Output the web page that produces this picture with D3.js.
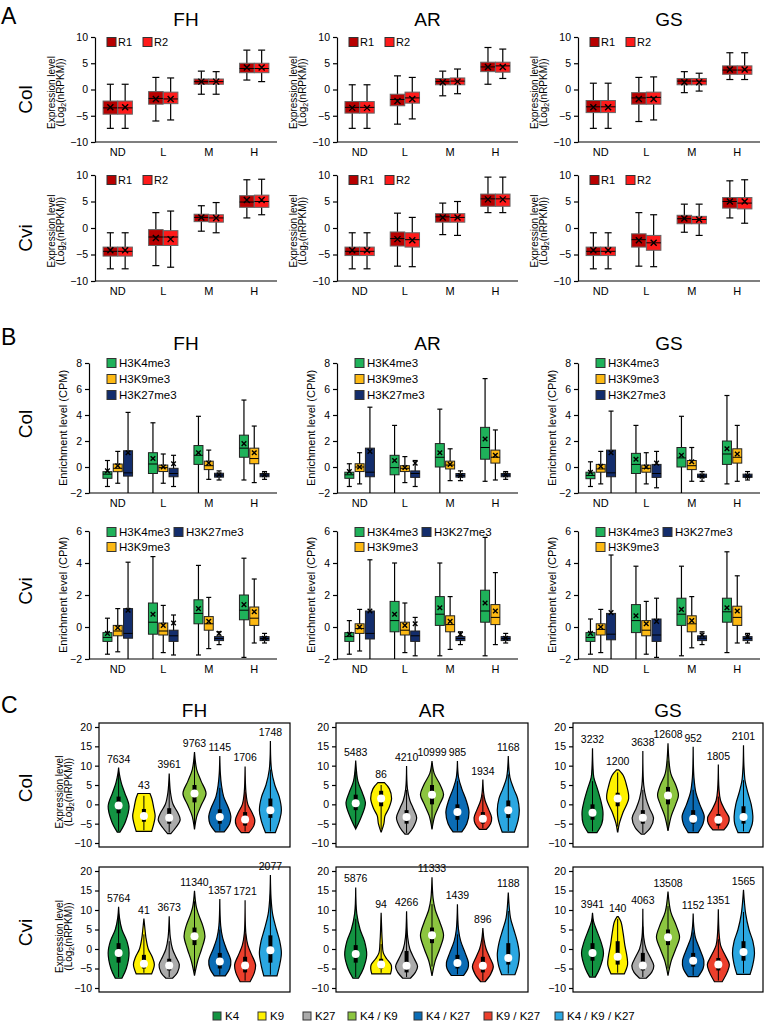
<!DOCTYPE html>
<html>
<head>
<meta charset="utf-8">
<script src="https://cdn.jsdelivr.net/npm/d3@7"></script>
<style>
  body { margin: 0; background: #fff; }
  svg { display: block; }
</style>
</head>
<body>
<svg id="fig" width="766" height="1024"></svg>
<script>
// ---- labels ----
const cats = ['ND', 'L', 'M', 'H'];
const colNames = ['FH', 'AR', 'GS'];
const rowNames = ['Col', 'Cvi'];
const repNames = ['R1', 'R2'];
const markNames = ['H3K4me3', 'H3K9me3', 'H3K27me3'];
const groupNames = ['K4', 'K9', 'K27', 'K4 / K9', 'K4 / K27', 'K9 / K27', 'K4 / K9 / K27'];

const aTicks = [-10, -5, 0, 5, 10];
const bTicksCol = [-2, 0, 2, 4, 6, 8];
const bTicksCvi = [-2, 0, 2, 4, 6];
const cTicks = [-10, -5, 0, 5, 10, 15, 20];

// ---- A: expression boxes, [low, q1, median, q3, high, mean] for R1 and R2 ----
const aColFH = [
  [[-7.4, -4.7, -3.5, -2.2, 1.0, -3.4], [-7.4, -4.7, -3.5, -2.2, 1.0, -3.4]],
  [[-6.0, -2.8, -1.7, -0.4, 2.3, -1.8], [-5.8, -2.7, -1.8, -0.5, 2.2, -1.8]],
  [[-0.9, 1.0, 1.5, 2.0, 3.5, 1.5], [-0.9, 1.0, 1.5, 2.0, 3.4, 1.5]],
  [[1.8, 3.2, 4.0, 5.0, 7.5, 4.2], [1.5, 3.2, 4.0, 5.0, 7.5, 4.2]]
];
const aColAR = [
  [[-7.4, -4.5, -3.4, -2.3, 0.9, -3.5], [-7.4, -4.5, -3.4, -2.3, 0.9, -3.5]],
  [[-6.6, -3.1, -1.9, -0.9, 2.6, -2.2], [-5.6, -2.6, -1.6, -0.5, 2.3, -1.8]],
  [[-1.2, 0.9, 1.5, 2.1, 3.5, 1.4], [-0.8, 0.9, 1.6, 2.2, 3.9, 1.5]],
  [[1.0, 3.4, 4.3, 5.2, 8.0, 4.3], [2.1, 3.3, 4.5, 5.2, 7.7, 4.3]]
];
const aColGS = [
  [[-7.4, -4.4, -3.3, -2.1, 1.2, -3.4], [-7.4, -4.4, -3.3, -2.1, 1.2, -3.4]],
  [[-6.1, -2.8, -1.6, -0.6, 2.3, -1.8], [-5.8, -2.8, -1.5, -0.5, 2.4, -1.8]],
  [[-0.6, 0.9, 1.6, 2.1, 3.4, 1.4], [-0.3, 0.9, 1.6, 2.1, 3.1, 1.4]],
  [[1.9, 2.9, 3.7, 4.5, 7.0, 3.8], [1.9, 2.9, 3.7, 4.5, 7.0, 3.8]]
];
const aCviFH = [
  [[-7.7, -5.3, -4.4, -3.6, -0.9, -4.2], [-7.7, -5.3, -4.4, -3.6, -0.9, -4.2]],
  [[-7.1, -3.3, -1.7, -0.3, 2.9, -1.9], [-7.4, -3.3, -1.7, -0.5, 3.2, -2.1]],
  [[-0.6, 1.2, 2.0, 2.6, 4.2, 2.0], [-0.9, 1.1, 1.9, 2.5, 4.8, 1.9]],
  [[1.9, 3.9, 4.9, 6.1, 9.1, 5.3], [2.5, 3.9, 5.0, 6.2, 9.2, 5.3]]
];
const aCviAR = [
  [[-7.7, -5.2, -4.4, -3.6, -0.9, -4.2], [-7.7, -5.2, -4.4, -3.6, -0.9, -4.2]],
  [[-7.2, -3.4, -2.0, -0.75, 2.8, -2.1], [-7.3, -3.6, -2.2, -0.9, 2.0, -2.3]],
  [[-1.25, 1.1, 2.1, 2.7, 4.7, 2.0], [-1.4, 1.1, 2.0, 2.7, 5.0, 2.0]],
  [[2.9, 4.1, 5.5, 6.4, 9.6, 5.4], [2.9, 4.1, 5.5, 6.4, 9.6, 5.4]]
];
const aCviGS = [
  [[-7.7, -5.2, -4.4, -3.6, -0.9, -4.2], [-7.7, -5.2, -4.4, -3.6, -0.9, -4.2]],
  [[-7.2, -3.6, -2.2, -1.1, 2.9, -2.3], [-7.3, -4.2, -2.8, -1.4, 2.5, -2.8]],
  [[-0.8, 0.8, 1.75, 2.4, 4.5, 1.8], [-1.4, 0.8, 1.6, 2.2, 4.5, 1.6]],
  [[1.9, 3.75, 5.0, 5.75, 8.9, 5.0], [0.9, 3.6, 4.7, 5.75, 9.1, 5.0]]
];

// ---- B: enrichment boxes, H3K4me3 / H3K9me3 / H3K27me3 ----
const bColFH = [
  [[-1.5, -0.87, -0.55, -0.36, 0.5, -0.3], [-1.25, -0.36, -0.1, 0.23, 1.2, 0.1], [-2, -0.7, -0.45, 1.25, 4.2, 1.1]],
  [[-2, -0.5, 0.23, 1.1, 3.4, 0.65], [-1.25, -0.35, -0.05, 0.15, 1.0, 0.0], [-1.5, -0.75, -0.5, -0.1, 0.9, 0.25]],
  [[-2, 0.2, 0.9, 1.65, 3.9, 1.1], [-0.95, -0.2, 0.1, 0.45, 1.3, 0.3], [-1.0, -0.78, -0.62, -0.48, -0.3, -0.6]],
  [[-1.0, 0.75, 1.45, 2.45, 5.15, 1.8], [-1.2, 0.25, 0.65, 1.45, 3.15, 1.1], [-0.95, -0.75, -0.62, -0.5, -0.35, -0.6]]
];
const bColAR = [
  [[-1.5, -0.87, -0.6, -0.4, 0.25, -0.35], [-1.3, -0.35, 0.0, 0.25, 1.1, 0.0], [-2, -0.75, -0.4, 1.45, 4.6, 1.2]],
  [[-2, -0.6, -0.05, 0.9, 3.2, 0.5], [-1.2, -0.35, -0.1, 0.1, 0.8, -0.05], [-1.5, -0.8, -0.5, -0.3, 0.5, 0.3]],
  [[-2, 0.0, 0.75, 1.8, 4.45, 1.1], [-1.05, -0.15, 0.15, 0.45, 1.4, 0.2], [-1.05, -0.78, -0.65, -0.5, -0.3, -0.65]],
  [[-1.1, 0.6, 1.5, 3.05, 6.8, 2.15], [-1.0, 0.3, 0.75, 1.3, 2.85, 0.9], [-0.95, -0.75, -0.62, -0.5, -0.35, -0.6]]
];
const bColGS = [
  [[-1.5, -0.9, -0.65, -0.4, 0.4, -0.4], [-1.3, -0.4, -0.15, 0.2, 1.2, 0.05], [-2, -0.75, -0.45, 1.3, 4.3, 1.1]],
  [[-2, -0.5, 0.2, 1.05, 3.2, 0.6], [-1.3, -0.4, -0.1, 0.15, 1.1, 0.0], [-1.6, -0.8, -0.5, 0.2, 1.2, 0.3]],
  [[-2, 0.0, 0.7, 1.5, 3.9, 0.9], [-1.1, -0.2, 0.1, 0.5, 1.5, 0.4], [-1.1, -0.8, -0.7, -0.55, -0.35, -0.7]],
  [[-1.3, 0.2, 1.0, 2.0, 5.5, 1.4], [-1.1, 0.3, 0.75, 1.4, 3.2, 1.0], [-1.0, -0.8, -0.7, -0.55, -0.35, -0.7]]
];
const bCviFH = [
  [[-1.7, -0.9, -0.65, -0.35, 0.55, -0.4], [-1.55, -0.55, -0.25, 0.1, 1.15, -0.05], [-2, -0.7, -0.4, 1.15, 4.05, 1.05]],
  [[-2, -0.45, 0.3, 1.5, 4.4, 0.8], [-1.6, -0.5, -0.25, 0.25, 1.35, 0.1], [-1.75, -0.9, -0.55, -0.2, 0.75, 0.25]],
  [[-1.75, 0.2, 0.85, 1.7, 3.85, 1.15], [-1.35, -0.2, 0.2, 0.65, 1.85, 0.35], [-1.1, -0.85, -0.72, -0.6, -0.3, -0.4]],
  [[-1.9, 0.45, 1.05, 2.0, 4.3, 1.4], [-1.0, 0.1, 0.55, 1.25, 3.0, 0.95], [-1.0, -0.85, -0.72, -0.6, -0.4, -0.7]]
];
const bCviAR = [
  [[-1.7, -0.9, -0.6, -0.35, 0.4, -0.45], [-1.5, -0.4, -0.1, 0.2, 1.1, 0.0], [-2, -0.75, -0.4, 1.0, 4.2, 1.0]],
  [[-2, -0.3, 0.4, 1.6, 4.0, 0.8], [-1.6, -0.5, -0.2, 0.3, 1.5, 0.1], [-1.8, -0.9, -0.55, -0.25, 0.6, 0.2]],
  [[-1.8, 0.1, 0.8, 1.9, 4.0, 1.2], [-1.4, -0.3, 0.15, 0.7, 1.9, 0.35], [-1.1, -0.85, -0.72, -0.6, -0.3, -0.45]],
  [[-1.8, 0.3, 1.0, 2.3, 5.6, 1.5], [-1.1, 0.15, 0.6, 1.4, 3.4, 1.0], [-1.0, -0.85, -0.72, -0.6, -0.4, -0.7]]
];
const bCviGS = [
  [[-1.7, -0.9, -0.65, -0.35, 0.5, -0.4], [-1.6, -0.5, -0.15, 0.2, 1.1, 0.0], [-2, -0.8, -0.45, 0.85, 4.5, 0.9]],
  [[-2, -0.35, 0.4, 1.4, 3.8, 0.7], [-1.7, -0.55, -0.2, 0.4, 1.6, 0.2], [-1.9, -0.9, -0.5, 0.5, 1.8, 0.35]],
  [[-1.8, 0.1, 0.8, 1.8, 3.8, 1.1], [-1.3, -0.3, 0.2, 0.7, 1.9, 0.4], [-1.1, -0.85, -0.7, -0.55, -0.3, -0.5]],
  [[-1.6, 0.3, 0.95, 1.8, 4.7, 1.2], [-1.0, 0.1, 0.6, 1.3, 3.2, 1.0], [-1.0, -0.85, -0.72, -0.6, -0.4, -0.6]]
];

// ---- C: violins, [count, q1, median, q3, outline [value, relative half width]] ----
const cColFH = [
  [7634, -2.3, -0.3, 2.0, [[-7.2, 0.12], [-4.5, 0.62], [-0.5, 0.95], [3, 0.55], [5.5, 0.25], [8, 0.06], [9.5, 0]]],
  [43, -4.5, -3.0, -1.2, [[-7, 0.7], [-5, 0.9], [-3, 1.02], [-1, 0.9], [1.5, 0.72], [2.8, 0.55]]],
  [3961, -5, -3.5, -1, [[-7.6, 0.15], [-6, 0.6], [-4, 1.0], [-2, 0.75], [0, 0.35], [3, 0.12], [8, 0]]],
  [9763, 0.5, 2.8, 5, [[-6.5, 0], [-3, 0.22], [0, 0.65], [2.8, 1.05], [6, 0.6], [9, 0.2], [13.5, 0]]],
  [1145, -5, -3.3, -1.3, [[-7.1, 0.4], [-5, 0.9], [-3, 1.0], [-1, 0.8], [2, 0.35], [5, 0.15], [8, 0.05], [12.5, 0]]],
  [1706, -5.5, -3.9, -2, [[-7.3, 0.35], [-5.5, 0.8], [-4, 0.88], [-2, 0.6], [0, 0.25], [3, 0.08], [9.8, 0]]],
  [1748, -3.5, -1.5, 1.5, [[-7.3, 0.45], [-4, 0.85], [-1.5, 1.0], [2, 0.8], [5, 0.4], [9, 0.1], [16.4, 0]]]
];
const cColAR = [
  [5483, -1.5, 0.3, 2.5, [[-6.4, 0], [-4, 0.4], [-1, 0.8], [0.5, 0.88], [3, 0.6], [6, 0.2], [11.3, 0]]],
  [86, -0.5, 1.5, 3.5, [[-7.1, 0.02], [-5, 0.25], [-3, 0.35], [-1, 0.7], [1.5, 0.95], [4, 0.75], [5.6, 0.3]]],
  [4210, -5, -3.3, -1.5, [[-7.7, 0.15], [-6, 0.6], [-3.5, 0.92], [-1, 0.6], [1, 0.3], [4, 0.08], [9.9, 0]]],
  [10999, 0, 2.5, 5, [[-6.5, 0], [-3, 0.25], [0, 0.7], [2.5, 1.05], [5, 0.75], [8, 0.2], [11.2, 0]]],
  [985, -4, -2, 0, [[-7.1, 0.4], [-5, 0.85], [-2, 1.05], [1, 0.8], [4, 0.4], [7, 0.1], [11.2, 0]]],
  [1934, -5, -3.7, -2, [[-6.5, 0.3], [-5, 0.7], [-3.5, 0.8], [-1.5, 0.55], [1, 0.2], [3, 0.07], [6.4, 0]]],
  [1168, -3.5, -1.5, 1, [[-7.2, 0.55], [-4, 0.9], [-1.5, 1.0], [1.5, 0.85], [4, 0.5], [7, 0.15], [12.5, 0]]]
];
const cColGS = [
  [3232, -4, -2.2, 0, [[-7.3, 0.4], [-5, 0.85], [-2, 0.95], [1, 0.75], [4, 0.45], [7, 0.12], [10, 0.04], [14.5, 0]]],
  [1200, -0.5, 1.5, 3, [[-7.1, 0.02], [-5, 0.15], [-2, 0.5], [1.5, 1.0], [5, 0.8], [7.5, 0.5], [8.9, 0.1]]],
  [3638, -5, -3.5, -1.5, [[-7.7, 0.15], [-6, 0.7], [-3.5, 0.97], [-1, 0.6], [1.5, 0.3], [5, 0.08], [13.8, 0]]],
  [12608, 0, 2.3, 4.5, [[-6.9, 0], [-3, 0.3], [0, 0.7], [2.3, 0.95], [5, 0.7], [8, 0.25], [15.8, 0]]],
  [952, -5, -3.7, -1.5, [[-7.3, 0.45], [-5, 0.9], [-3, 1.0], [0, 0.6], [3, 0.25], [7, 0.07], [14.9, 0]]],
  [1805, -5.5, -4, -2.5, [[-6.6, 0.5], [-5, 0.9], [-3.5, 0.98], [-1.5, 0.6], [1, 0.2], [4, 0.06], [10.3, 0]]],
  [2101, -5, -3.3, -0.5, [[-7.3, 0.5], [-5, 0.8], [-3, 0.85], [0, 0.7], [3, 0.4], [6, 0.15], [10, 0.04], [15.3, 0]]]
];
const cCviFH = [
  [5764, -3.5, -1, 1.5, [[-7.5, 0.3], [-5, 0.7], [-1, 0.95], [2, 0.75], [5, 0.3], [8, 0.08], [10.8, 0]]],
  [41, -5, -3.8, -1.5, [[-6.4, 0.7], [-4, 0.95], [-2, 0.75], [0, 0.4], [3, 0.18], [5, 0.1], [7.8, 0]]],
  [3673, -5.5, -4.2, -2.5, [[-7.5, 0.3], [-6, 0.75], [-4, 0.92], [-2, 0.6], [0, 0.3], [3, 0.1], [8.4, 0]]],
  [11340, 1, 3.3, 5.5, [[-6.8, 0], [-3, 0.3], [0, 0.65], [3.3, 0.95], [6, 0.75], [9, 0.35], [11, 0.15], [14.9, 0]]],
  [1357, -5, -3.2, -1, [[-6.9, 0.5], [-5, 0.9], [-3, 1.0], [0, 0.6], [3, 0.25], [6, 0.08], [12.8, 0]]],
  [1721, -6, -4.2, -2, [[-8.4, 0.45], [-6, 0.85], [-4, 0.95], [-1.5, 0.6], [1, 0.25], [4, 0.07], [12.5, 0]]],
  [2077, -3.5, -0.3, 3.5, [[-6.9, 0.6], [-4, 0.85], [-1, 1.0], [2, 0.85], [5, 0.55], [9, 0.2], [13, 0.06], [19, 0]]]
];
const cCviAR = [
  [5876, -3.5, -1.3, 1, [[-7.5, 0.25], [-5, 0.7], [-1.5, 1.0], [2, 0.8], [5, 0.4], [9, 0.1], [15.8, 0]]],
  [94, -5, -4, -2.5, [[-6.4, 0.85], [-5, 0.95], [-4, 0.9], [-2.5, 0.5], [-1, 0.2], [2, 0.1], [5, 0.05], [9.3, 0]]],
  [4266, -6, -4.3, -0.5, [[-7.5, 0.35], [-6, 0.8], [-4.5, 1.0], [-2.5, 0.7], [0, 0.3], [3, 0.1], [9.7, 0]]],
  [11333, 1.5, 3.5, 5.5, [[-6.9, 0], [-3, 0.3], [0, 0.7], [3.5, 1.05], [7, 0.7], [10, 0.3], [13, 0.1], [18.4, 0]]],
  [1439, -5, -3.6, -1.5, [[-6.8, 0.55], [-5, 0.95], [-3.5, 1.0], [-1, 0.7], [2, 0.3], [5, 0.1], [11.5, 0]]],
  [896, -6, -4.3, -2, [[-8.4, 0.2], [-6.5, 0.7], [-4.5, 0.95], [-2, 0.6], [0, 0.3], [2.5, 0.1], [5.4, 0]]],
  [1188, -4, -2.3, 1.5, [[-6.6, 0.6], [-4, 0.9], [-1.5, 1.0], [1.5, 0.85], [5, 0.5], [8, 0.2], [14.5, 0]]]
];
const cCviGS = [
  [3941, -3, -1, 1.5, [[-7.2, 0.25], [-5, 0.65], [-1, 1.0], [2, 0.75], [5, 0.35], [7, 0.1], [9.3, 0]]],
  [140, -4, -2, 2, [[-6.4, 0.6], [-4, 0.9], [-2, 0.85], [1, 0.65], [4, 0.5], [7, 0.3], [8.3, 0.05]]],
  [4063, -5.5, -4.2, -1, [[-7.5, 0.3], [-6, 0.8], [-4.3, 1.0], [-2, 0.65], [0, 0.3], [3, 0.08], [10.3, 0]]],
  [13508, 1, 3, 5, [[-6.8, 0], [-3, 0.3], [0, 0.7], [3, 1.05], [6, 0.75], [9.5, 0.25], [14.7, 0]]],
  [1152, -4.5, -3, -1, [[-7.1, 0.45], [-5, 0.9], [-3, 0.97], [0, 0.6], [3, 0.2], [6, 0.05], [9.1, 0]]],
  [1351, -5.5, -4, -2.3, [[-8.4, 0.35], [-6, 0.8], [-4, 1.0], [-1.5, 0.6], [1, 0.2], [4, 0.07], [10.2, 0]]],
  [1565, -3, -0.8, 2, [[-6.5, 0.6], [-4, 0.85], [-1, 1.0], [2, 0.85], [5, 0.5], [9, 0.2], [15.2, 0]]]
];

// ---- colours ----
const repColors = ['#b80000', '#ff1a1a'];
const markColors = ['#1fb25a', '#fdb913', '#132d6c'];
const groupColors = ['#139442', '#fff200', '#ababab', '#8cc540', '#0b6cb5', '#ec3f2c', '#2ba7e1'];

const FONT = 'Arial, "Liberation Sans", Helvetica, sans-serif';
const svg = d3.select('#fig').attr('font-family', FONT);

// layout
const colX = [[95, 277], [337, 518], [578, 760]];
const aRowY = [[37, 142], [175, 281]];
const bAxisX = [89, 337, 578];
const bRowY = [[363, 493], [531, 659]];
const cFrameX = [[99, 290], [336, 528], [573, 763]];
const cRowY = [[723, 847], [867, 992]];

function styleAxis(a) {
  a.attr('font-family', FONT);
  a.select('.domain').attr('stroke', '#000').attr('stroke-width', 1.2);
  a.selectAll('.tick line').attr('stroke', '#000').attr('stroke-width', 1.2);
  a.selectAll('.tick text').attr('font-size', 10.5).attr('fill', '#000');
}

function text(x, y, s, size, anchor, rotate) {
  const t = svg.append('text')
    .attr('font-size', size)
    .attr('text-anchor', anchor || 'start')
    .attr('fill', '#000');
  if (rotate) t.attr('transform', `translate(${x},${y}) rotate(-90)`);
  else t.attr('x', x).attr('y', y);
  t.text(s);
  return t;
}

// two-line "Expression level (Log2(nRPKM))" label
function exprLabel(axisX, yc) {
  text(axisX - 40, yc, 'Expression level', 10, 'middle', true);
  const t = svg.append('text')
    .attr('font-size', 10)
    .attr('text-anchor', 'middle')
    .attr('transform', `translate(${axisX - 31},${yc}) rotate(-90)`);
  t.append('tspan').text('(Log');
  t.append('tspan').text('2').attr('font-size', 7).attr('dy', 2);
  t.append('tspan').text('(nRPKM))').attr('dy', -2);
}

function swatch(x, yc, size, fill) {
  svg.append('rect')
    .attr('x', x).attr('y', yc - size / 2)
    .attr('width', size).attr('height', size)
    .attr('fill', fill).attr('stroke', '#333').attr('stroke-width', 1);
}

// box plot panel (sections A and B)
function boxPanel(p) {
  const g = svg.append('g');
  const x = d3.scaleBand().domain(cats).range(p.xr);
  const y = d3.scaleLinear().domain(p.dom).range([p.yr[1], p.yr[0]]);
  const clampY = v => y(Math.max(p.dom[0], Math.min(p.dom[1], v)));

  g.append('g')
    .attr('transform', `translate(${p.axisX},0)`)
    .call(d3.axisLeft(y).tickValues(p.ticks).tickSize(4).tickPadding(3).tickSizeOuter(0))
    .call(styleAxis);

  p.data.forEach((grp, ci) => {
    grp.forEach((s, k) => {
      const cx = x(cats[ci]) + x.bandwidth() / 2 + p.offsets[k];
      const [lo, q1, med, q3, hi, mean] = s;
      g.append('line')
        .attr('x1', cx).attr('x2', cx)
        .attr('y1', clampY(lo)).attr('y2', clampY(hi))
        .attr('stroke', '#000').attr('stroke-width', 1.2);
      [lo, hi].forEach(v => {
        if (v <= p.dom[0]) return;
        g.append('line')
          .attr('x1', cx - p.capW / 2).attr('x2', cx + p.capW / 2)
          .attr('y1', y(v)).attr('y2', y(v))
          .attr('stroke', '#000').attr('stroke-width', 1.2);
      });
      g.append('rect')
        .attr('x', cx - p.boxW / 2).attr('width', p.boxW)
        .attr('y', y(q3)).attr('height', y(q1) - y(q3))
        .attr('fill', p.fills[k]).attr('stroke', p.boxStroke).attr('stroke-width', 1);
      g.append('line')
        .attr('x1', cx - p.boxW / 2).attr('x2', cx + p.boxW / 2)
        .attr('y1', y(med)).attr('y2', y(med))
        .attr('stroke', '#000').attr('stroke-width', 1);
      const ym = y(mean), m = p.mark;
      g.append('path')
        .attr('d', `M${cx - m},${ym - m}L${cx + m},${ym + m}M${cx - m},${ym + m}L${cx + m},${ym - m}`)
        .attr('stroke', '#000').attr('stroke-width', 1.4);
    });
  });

  // x axis
  g.append('line')
    .attr('x1', p.axisX).attr('x2', p.xr[1])
    .attr('y1', p.yr[1]).attr('y2', p.yr[1])
    .attr('stroke', '#000').attr('stroke-width', 1.2);
  g.append('g')
    .attr('transform', `translate(0,${p.yr[1]})`)
    .call(d3.axisBottom(x).tickSize(0).tickPadding(6))
    .call(a => a.select('.domain').remove())
    .call(a => a.attr('font-family', FONT).selectAll('text').attr('font-size', 11).attr('fill', '#000'));
}

// violin panel (section C)
function violinPanel(data, fx, fy) {
  const g = svg.append('g');
  const x = d3.scalePoint().domain(groupNames).range(fx).padding(0.775);
  const y = d3.scaleLinear().domain([-10, 20]).range([fy[1] - 4, fy[0] + 4]);
  const w = d3.scaleLinear().domain([0, 1]).range([0, 11]);
  const line = d3.line().curve(d3.curveCatmullRom.alpha(0.5));

  g.append('g')
    .attr('transform', `translate(${fx[0]},0)`)
    .call(d3.axisLeft(y).tickValues(cTicks).tickSize(4).tickPadding(3))
    .call(a => a.select('.domain').remove())
    .call(styleAxis);

  g.append('rect')
    .attr('x', fx[0]).attr('y', fy[0])
    .attr('width', fx[1] - fx[0]).attr('height', fy[1] - fy[0])
    .attr('fill', 'none').attr('stroke', '#000').attr('stroke-width', 1.2);

  data.forEach((d, i) => {
    const [n, q1, med, q3, prof] = d;
    const cx = x(groupNames[i]);
    const lo = prof[0][0], hi = prof[prof.length - 1][0];
    const right = prof.map(([v, f]) => [cx + w(f), y(v)]);
    const left = prof.slice().reverse().map(([v, f]) => [cx - w(f), y(v)]);
    g.append('path')
      .attr('d', line(right) + line(left).replace(/^M/, 'L') + 'Z')
      .attr('fill', groupColors[i]).attr('stroke', '#000').attr('stroke-width', 1.2);

    const iqr = q3 - q1;
    const wLo = Math.max(lo + 0.3, q1 - 1.5 * iqr);
    const wHi = Math.min(hi - 0.6, q3 + 1.5 * iqr);
    g.append('line')
      .attr('x1', cx).attr('x2', cx).attr('y1', y(wLo)).attr('y2', y(wHi))
      .attr('stroke', '#000').attr('stroke-width', 1);
    g.append('rect')
      .attr('x', cx - 2).attr('width', 4)
      .attr('y', y(q3)).attr('height', y(q1) - y(q3))
      .attr('fill', '#000');
    g.append('circle')
      .attr('cx', cx).attr('cy', y(med)).attr('r', 4)
      .attr('fill', '#fff');
    g.append('text')
      .attr('x', cx).attr('y', y(hi) - 5)
      .attr('text-anchor', 'middle').attr('font-size', 10.5).attr('fill', '#000')
      .text(n);
  });
}

// ================= Section A =================
text(1, 24, 'A', 23);
const aData = [[aColFH, aColAR, aColGS], [aCviFH, aCviAR, aCviGS]];
colNames.forEach((c, j) => text((colX[j][0] + colX[j][1]) / 2, 26, c, 19, 'middle'));
rowNames.forEach((r, i) => {
  const [top, bottom] = aRowY[i];
  text(32, (top + bottom) / 2 + 10, r, 19, 'middle', true);
  colNames.forEach((c, j) => {
    boxPanel({
      data: aData[i][j], xr: colX[j], axisX: colX[j][0], yr: aRowY[i],
      dom: [-10, 10], ticks: aTicks, offsets: [-7.4, 7.4], boxW: 14.5, capW: 7,
      fills: repColors, boxStroke: '#666', mark: 3
    });
    exprLabel(colX[j][0], (top + bottom) / 2 + 3);
    repNames.forEach((r2, k) => {
      const lx = colX[j][0] + 12 + k * 36;
      swatch(lx, top + 5, 9, repColors[k]);
      text(lx + 11, top + 9, r2, 11);
    });
  });
});

// ================= Section B =================
text(1, 345, 'B', 23);
const bData = [[bColFH, bColAR, bColGS], [bCviFH, bCviAR, bCviGS]];
const bTicks = [bTicksCol, bTicksCvi];
const bDom = [[-2, 8], [-2, 6]];
colNames.forEach((c, j) => text((colX[j][0] + colX[j][1]) / 2, 350, c, 19, 'middle'));
rowNames.forEach((r, i) => {
  const [top, bottom] = bRowY[i];
  text(32, (top + bottom) / 2 - 4, r, 19, 'middle', true);
  colNames.forEach((c, j) => {
    boxPanel({
      data: bData[i][j], xr: colX[j], axisX: bAxisX[j], yr: bRowY[i],
      dom: bDom[i], ticks: bTicks[i], offsets: [-10.3, 0, 10.3], boxW: 9, capW: 5,
      fills: markColors, boxStroke: '#222', mark: 2.3
    });
    text(bAxisX[j] - 22, (top + bottom) / 2, 'Enrichment level (CPM)', 11, 'middle', true);
    // legend: one column for Col, two columns for Cvi
    const pos = i === 0 ? [[0, 0], [0, 16], [0, 32]] : [[0, 1], [0, 16], [67, 1]];
    markNames.forEach((m, k) => {
      const lx = bAxisX[j] + 18 + pos[k][0];
      const ly = top + pos[k][1];
      swatch(lx, ly, 9, markColors[k]);
      text(lx + 12, ly + 4, m, 11.5);
    });
  });
});

// ================= Section C =================
text(1, 713, 'C', 23);
const cData = [[cColFH, cColAR, cColGS], [cCviFH, cCviAR, cCviGS]];
colNames.forEach((c, j) => text((cFrameX[j][0] + cFrameX[j][1]) / 2, 717, c, 19, 'middle'));
rowNames.forEach((r, i) => {
  const [top, bottom] = cRowY[i];
  text(32, (top + bottom) / 2 + 3, r, 19, 'middle', true);
  colNames.forEach((c, j) => violinPanel(cData[i][j], cFrameX[j], cRowY[i]));
  exprLabel(cFrameX[0][0] + 4, (top + bottom) / 2 + 7);
});

// legend for C
const cLegendX = [213, 258, 303, 348, 414, 484, 555];
groupNames.forEach((gname, k) => {
  swatch(cLegendX[k], 1016, 8, groupColors[k]);
  text(cLegendX[k] + 12, 1020, gname, 11.5);
});
</script>
</body>
</html>
